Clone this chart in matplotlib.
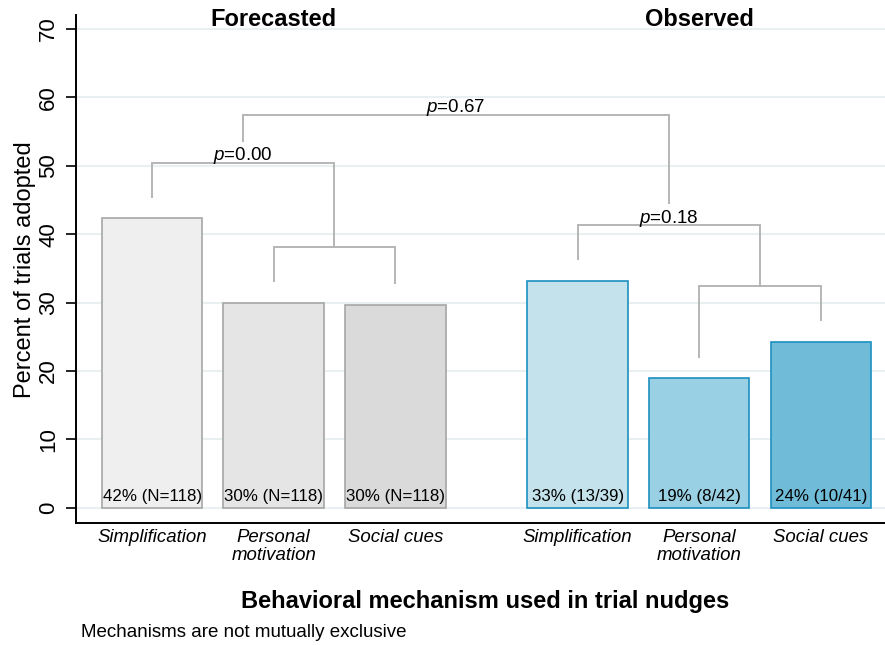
import matplotlib
matplotlib.use('Agg')
import matplotlib.pyplot as plt

plt.rcParams['font.family'] = ['Liberation Sans', 'DejaVu Sans']
plt.rcParams['mathtext.fontset'] = 'custom'
plt.rcParams['mathtext.it'] = 'Liberation Sans:italic'
plt.rcParams['mathtext.rm'] = 'Liberation Sans'

# ---- data ----
groups = ['Forecasted', 'Observed']
mechanisms = ['Simplification', 'Personal\nmotivation', 'Social cues']
forecast_pct = [42.3, 30.0, 29.7]
observed_pct = [33.2, 18.9, 24.3]
forecast_labels = ['42% (N=118)', '30% (N=118)', '30% (N=118)']
observed_labels = ['33% (13/39)', '19% (8/42)', '24% (10/41)']
p_forecast = '0.00'
p_observed = '0.18'
p_between = '0.67'
yticks = [0, 10, 20, 30, 40, 50, 60, 70]

# ---- style ----
f_fill = ['#efefef', '#e5e5e5', '#dadada']
o_fill = ['#c3e2ec', '#99d0e3', '#70bbd8']
f_edge = '#a6a6a6'
o_edge = '#1c90c0'
br_col = '#b5b5b5'

fig = plt.figure(figsize=(8.85, 6.45), dpi=100)
ax = fig.add_axes([76/885, 1-523.3/645, 1-76/885, (523.3-15)/645])

fx = [0, 1, 2]
ox = [3.5, 4.5, 5.5]
W = 0.827

for y in yticks:
    ax.axhline(y, color='#e8f0f1', lw=1.5, zorder=0)

ax.bar(fx, forecast_pct, width=W, color=f_fill, edgecolor=f_edge, linewidth=1.2, zorder=2)
ax.bar(ox, observed_pct, width=W, color=o_fill, edgecolor=o_edge, linewidth=1.2, zorder=2)

for x, lab in zip(fx + ox, forecast_labels + observed_labels):
    ax.text(x, 1.0, lab, ha='center', va='baseline', fontsize=12.2, zorder=3)

GAP = 3.2
RISE = 8.1

def bracket(xl, yl, xr, yr, h):
    ax.plot([xl, xl, xr, xr], [yl, h, h, yr], color=br_col, lw=1.4,
            solid_joinstyle='miter', zorder=1)
    return (xl + xr) / 2, h

def plab(x, h, p):
    ax.text(x, h + 0.4, r'$\mathit{p}$=' + p, ha='center', va='baseline', fontsize=13.5, zorder=3)

# forecasted
m1, h1 = bracket(fx[1], forecast_pct[1] + GAP, fx[2], forecast_pct[2] + GAP,
                 max(forecast_pct[1], forecast_pct[2]) + RISE)
mF, hF = bracket(fx[0], forecast_pct[0] + GAP, m1, h1, max(forecast_pct[0], h1) + RISE)
plab(mF, hF, p_forecast)
# observed
m2, h2 = bracket(ox[1], observed_pct[1] + GAP, ox[2], observed_pct[2] + GAP,
                 max(observed_pct[1], observed_pct[2]) + RISE)
mO, hO = bracket(ox[0], observed_pct[0] + GAP, m2, h2, max(observed_pct[0], h2) + RISE)
plab(mO, hO, p_observed)
# between
mB, hB = bracket(mF, hF + GAP, mO, hO + GAP, max(hF, hO) + 7.0)
plab(mB, hB, p_between)

# group titles
for g, x in zip(groups, [fx[1], ox[1]]):
    ax.text(x, 70.4, g, ha='center', va='baseline', fontsize=17, fontweight='bold')

ax.set_xlim(-0.626, 6.028)
ax.set_ylim(-2.28, 72.04)
ax.set_yticks(yticks)
ax.set_yticklabels([str(t) for t in yticks], rotation=90, va='center', fontsize=16)
ax.tick_params(axis='y', length=7, width=1.2, pad=5, color='black')
ax.set_xticks(fx + ox)
ax.set_xticklabels(mechanisms * 2, fontsize=13.4, style='italic', linespacing=1.05)
ax.tick_params(axis='x', length=0, pad=4)
ax.set_ylabel('Percent of trials adopted', fontsize=17, labelpad=2)

for s in ['top', 'right']:
    ax.spines[s].set_visible(False)
ax.spines['left'].set_linewidth(1.4)
ax.spines['bottom'].set_linewidth(1.4)

fig.text(485.5/885, 1-608/645, 'Behavioral mechanism used in trial nudges', ha='center',
         va='baseline', fontsize=17, fontweight='bold')
fig.text(81/885, 1-637/645, 'Mechanisms are not mutually exclusive', ha='left',
         va='baseline', fontsize=13.5)

fig.savefig('out.png', dpi=100)
